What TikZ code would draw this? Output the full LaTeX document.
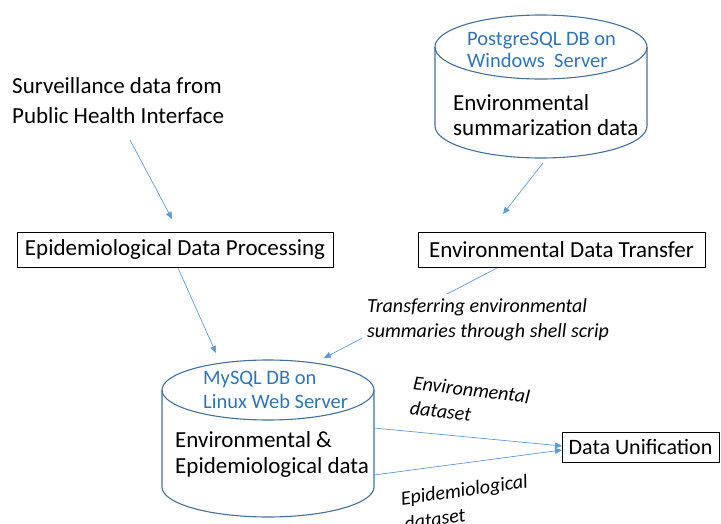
\documentclass[tikz,border=0pt]{standalone}
\usepackage{fontspec}
\setmainfont{Carlito}
\usetikzlibrary{arrows.meta,calc}
\definecolor{arrowblue}{HTML}{5B9BD5}
\definecolor{dbblue}{HTML}{2E75B6}
\definecolor{cylline}{HTML}{41719C}

\begin{document}
\begin{tikzpicture}[x=1pt,y=-1pt,
  procbox/.style={draw=black, line width=0.9pt, inner xsep=6pt, inner ysep=0pt,
    minimum height=35pt, font=\fontsize{23}{27}\selectfont},
  flow/.style={draw=arrowblue, line width=0.7pt, -{Triangle[length=7pt,width=6pt]}},
  dbtitle/.style={text=dbblue, font=\fontsize{20.5}{24}\selectfont, inner sep=0pt, anchor=base west},
  dbtext/.style={font=\fontsize{23}{27}\selectfont, inner sep=0pt, anchor=base west},
  note/.style={fill=white, font=\itshape\fontsize{20}{25}\selectfont, align=left, inner sep=5pt},
  cyl/.style={draw=cylline, line width=1.1pt}]

\useasboundingbox (0,0) rectangle (721,523);

% Database cylinders
\draw[cyl] (435,47) -- (435,126) arc[start angle=180, end angle=0, x radius=106, y radius=32] -- (647,47);
\draw[cyl] (541,47) ellipse[x radius=106, y radius=32];
\node[inner sep=0pt, minimum width=212pt, minimum height=143pt] (pg) at (541,86.5) {};

\draw[cyl] (162,390) -- (162,487) arc[start angle=180, end angle=0, x radius=106, y radius=30] -- (374,390);
\draw[cyl] (268,390) ellipse[x radius=106, y radius=30];
\node[inner sep=0pt, minimum width=212pt, minimum height=157pt] (mysql) at (268,438.5) {};

% Database labels, one node per line
\node[dbtitle] (pgtitleA) at (467,45) {PostgreSQL DB on};
\node[dbtitle] (pgtitleB) at (467,67) {Windows\ \ Server};
\node[dbtext] (pgdataA) at (453,110) {Environmental};
\node[dbtext] (pgdataB) at (453,135) {summarization data};
\node[dbtitle] (mytitleA) at (203,384) {MySQL DB on};
\node[dbtitle] (mytitleB) at (203,408) {Linux Web Server};
\node[dbtext] (mydataA) at (175,447) {Environmental \&};
\node[dbtext] (mydataB) at (175,473) {Epidemiological data};

% Source text
\node[dbtext] (survA) at (12,93) {Surveillance data from};
\node[dbtext] (survB) at (12,123) {Public Health Interface};

% Processing boxes
\node[procbox, minimum width=316pt] (epi) at (175,249.5) {Epidemiological Data Processing};
\node[procbox, minimum width=287pt] (edt) at (561.5,249.5) {Environmental Data Transfer};
\node[procbox, minimum width=157pt, minimum height=30pt, font=\fontsize{22}{26}\selectfont] (du) at (640.5,447) {Data Unification};

% Connector end points
\coordinate (s1) at (130,140);  \coordinate (e1) at (172,219);
\coordinate (s2) at (178,268);  \coordinate (e2) at (216,353);
\coordinate (s3) at (543,163);  \coordinate (e3) at (503,214);
\coordinate (s4) at (497,268);  \coordinate (e4) at (324,358);
\coordinate (s5) at (374,428);  \coordinate (e5) at (562,446);
\coordinate (s6) at (374,475);  \coordinate (e6) at (562,450);

\draw[flow] (s1) -- (e1);
\draw[flow] (s2) -- (e2);
\draw[flow] (s3) -- (e3);
\draw[flow] (s4) -- (e4);
\draw[flow] (s5) -- (e5);
\draw[flow] (s6) -- (e6);

% Connector labels
\node[note] (transfer) at (488,320) {Transferring environmental\\summaries through shell scrip};
\node[note, rotate=-7, inner sep=2pt] (envset) at (470,402) {Environmental\\dataset};
\node[note, rotate=8, inner sep=2pt] (episet) at (466,502) {Epidemiological\\dataset};
\end{tikzpicture}
\end{document}
